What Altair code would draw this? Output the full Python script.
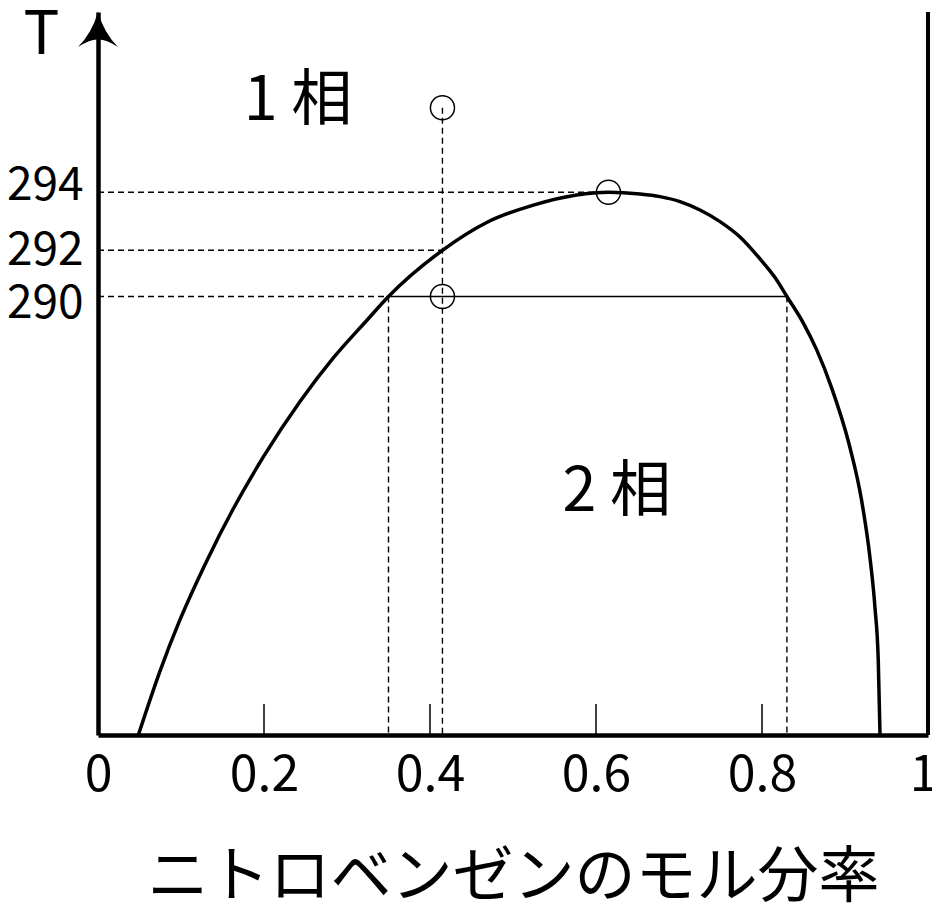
import altair as alt
import pandas as pd

# ---- data ----
curve_x = [0.0486, 0.0747, 0.0988, 0.1310, 0.1630, 0.1992, 0.2434, 0.2835, 0.3243,
           0.35, 0.415, 0.4683, 0.5245, 0.5767, 0.615, 0.6530, 0.6771, 0.7012,
           0.7253, 0.7494, 0.7735, 0.7976, 0.8157, 0.83, 0.8498, 0.8659, 0.8840,
           0.9048, 0.9201, 0.9301, 0.9361, 0.9401, 0.9422]
curve_T = [273.0, 275.48, 277.47, 279.75, 281.77, 283.78, 285.93, 287.62, 289.09,
           290.0, 292.0, 292.96, 293.56, 293.91, 294.0, 293.94, 293.85, 293.68,
           293.39, 292.99, 292.46, 291.63, 290.82, 290.0, 288.97, 287.93, 286.45,
           284.29, 282.08, 279.87, 277.94, 275.87, 273.0]

# the temperature axis of the original is a schematic, not evenly spaced
T_breaks = [273.0, 290, 292, 294, 301.0]
T_min, T_max = T_breaks[0], T_breaks[-1]
x_ticks = [0, 0.2, 0.4, 0.6, 0.8, 1]
T_ticks = [290, 292, 294]
inner_ticks = [0.2, 0.4, 0.6, 0.8]

h_dash_x2 = [0.615, 0.415, 0.35]
h_dash_T = [294, 292, 290]
v_dash_x = [0.415, 0.35, 0.83]
v_dash_T = [297.28, 290, 290]
tie_x = [0.35, 0.83]
tie_T = 290
circle_x = [0.415, 0.615, 0.415]
circle_T = [297.28, 294, 290]
phase_labels = ["1 相", "2 相"]
phase_x = [0.241, 0.625]
phase_T = [296.81, 281.68]

FONT = "Noto Sans CJK JP"
W, H = 830, 723

xs = alt.Scale(domain=[0, 1], nice=False, zero=False)
ys = alt.Scale(domain=T_breaks, range=[H, 284.5, 238.3, 180.3, 0], nice=False, zero=False)

x_axis = alt.Axis(values=x_ticks, format="~g", grid=False, ticks=False, tickSize=0,
                  domainColor="black", domainWidth=4.5,
                  labelFont=FONT, labelFontSize=50, labelColor="black",
                  labelPadding=15, labelFlush=False, labelOverlap=False,
                  labelOffset={"condition": {"test": "datum.value == 1", "value": -5},
                               "value": 0},
                  title="ニトロベンゼンのモル分率", titleFont=FONT, titleFontSize=61,
                  titleFontWeight="normal", titleColor="black",
                  titleY=161, titleBaseline="alphabetic")
y_axis = alt.Axis(values=T_ticks, grid=False, ticks=False, tickSize=0,
                  domainColor="black", domainWidth=4.5,
                  labelFont=FONT, labelFontSize=46, labelColor="black",
                  labelPadding=15, labelOverlap=False, labelFlush=False,
                  labelOffset={"condition": [{"test": "datum.value == 294", "value": -7},
                                             {"test": "datum.value == 290", "value": 7}],
                               "value": 0},
                  title="T", titleFont=FONT, titleFontSize=60, titleFontWeight="normal",
                  titleColor="black", titleAngle=0, titleAlign="center",
                  titleBaseline="alphabetic", titleX=-57, titleY=41)

def X(f="x"):
    return alt.X(f"{f}:Q", scale=xs, axis=x_axis)

def Y(f="T"):
    return alt.Y(f"{f}:Q", scale=ys, axis=y_axis)

curve_df = pd.DataFrame({"x": curve_x, "T": curve_T})
hdash_df = pd.DataFrame({"x": [0] * 3, "x2": h_dash_x2, "T": h_dash_T})
vdash_df = pd.DataFrame({"x": v_dash_x, "T": v_dash_T, "T2": [T_min] * 3})
tie_df = pd.DataFrame({"x": [tie_x[0]], "x2": [tie_x[1]], "T": [tie_T]})
circ_df = pd.DataFrame({"x": circle_x, "T": circle_T})
tick_df = pd.DataFrame({"x": inner_ticks, "T": [T_min] * len(inner_ticks)})
right_df = pd.DataFrame({"x": [1], "T": [T_min], "T2": [T_max]})
arrow_df = pd.DataFrame({"x": [0], "T": [T_max]})
lab_df = pd.DataFrame({"x": phase_x, "T": phase_T, "t": phase_labels})

curve = alt.Chart(curve_df).mark_line(interpolate="monotone", color="black",
                                      strokeWidth=3.5).encode(
    x=X(), y=Y(), order="x:Q")
hdash = alt.Chart(hdash_df).mark_rule(color="black", strokeWidth=1.4,
                                      strokeDash=[6, 4]).encode(
    x=X(), x2="x2:Q", y=Y())
vdash = alt.Chart(vdash_df).mark_rule(color="black", strokeWidth=1.4,
                                      strokeDash=[6, 4]).encode(
    x=X(), y=Y(), y2="T2:Q")
tie = alt.Chart(tie_df).mark_rule(color="black", strokeWidth=1.6).encode(
    x=X(), x2="x2:Q", y=Y())
circles = alt.Chart(circ_df).mark_point(shape="circle", filled=False, color="black",
                                        size=580, strokeWidth=1.5, opacity=1).encode(
    x=X(), y=Y())
ticks = alt.Chart(tick_df).mark_tick(orient="vertical", color="black", size=31,
                                     thickness=1.5, yOffset=-15.5, opacity=1).encode(
    x=X(), y=Y())
right = alt.Chart(right_df).mark_rule(color="black", strokeWidth=4).encode(
    x=X(), y=Y(), y2="T2:Q")
arrow = alt.Chart(arrow_df).mark_point(
    shape="M0,-1 Q0.3,0.05 1,0.75 Q0.35,0.35 0,0.38 Q-0.35,0.35 -1,0.75 Q-0.3,0.05 0,-1 Z",
    filled=True, color="black", size=1600, yOffset=20, opacity=1).encode(
    x=X(), y=Y())
labels = alt.Chart(lab_df).mark_text(font=FONT, fontSize=61, color="black",
                                     align="center", baseline="alphabetic").encode(
    x=X(), y=Y(), text="t:N")

chart = alt.layer(hdash, vdash, tie, curve, circles, ticks, right, arrow, labels).properties(
    width=W, height=H,
    autosize=alt.AutoSizeParams(type="none"),
    padding={"left": 90, "top": 4, "right": 4, "bottom": 176},
    background="white",
).configure_view(stroke=None)

chart.save("out.html", embed_options={"renderer": "svg", "actions": False})
